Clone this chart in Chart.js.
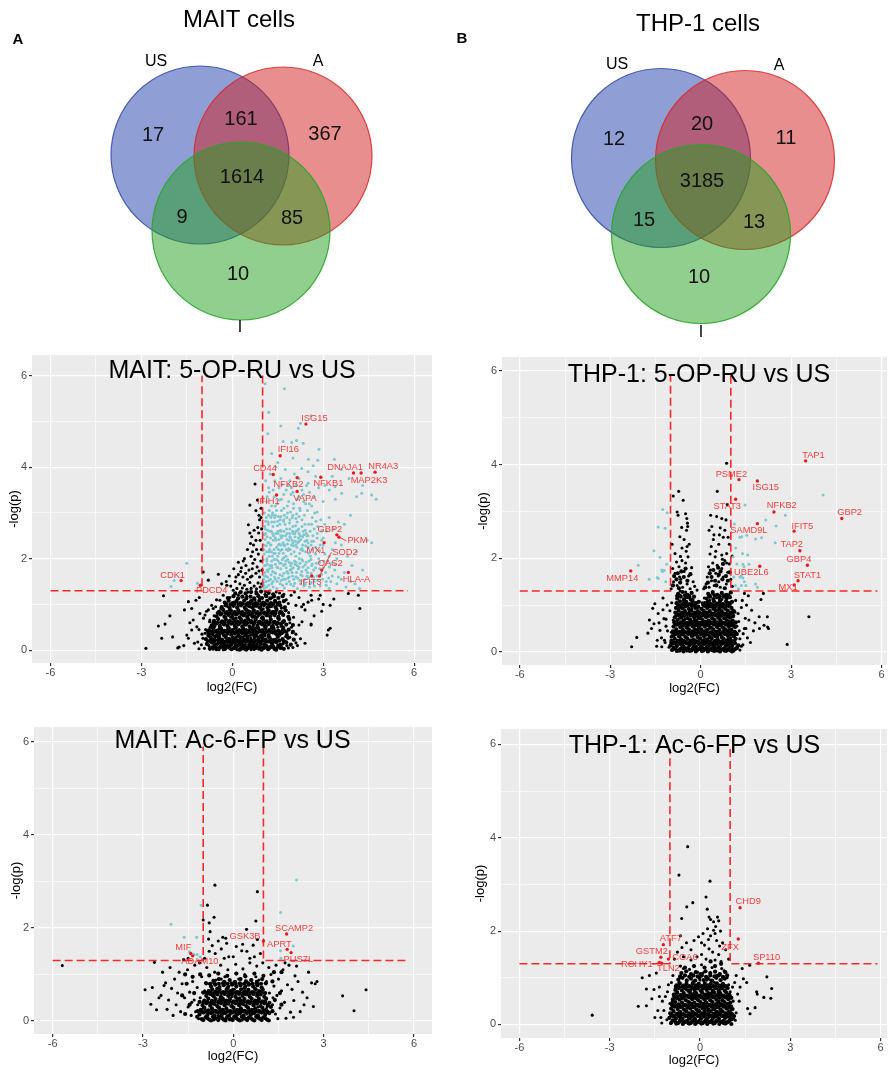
<!DOCTYPE html>
<html>
<head>
<meta charset="utf-8">
<script src="https://cdn.jsdelivr.net/npm/chart.js@4.4.1/dist/chart.umd.min.js"></script>
<style>
  body { margin: 0; background: #fff; width: 888px; height: 1069px; position: relative; overflow: hidden; }
  canvas { position: absolute; }
</style>
</head>
<body>
<canvas id="vennA" width="444" height="340" style="left:0;top:0"></canvas>
<canvas id="vennB" width="444" height="340" style="left:444px;top:0"></canvas>
<canvas id="maitOp" width="444" height="352" style="left:0;top:345px"></canvas>
<canvas id="thpOp" width="444" height="352" style="left:444px;top:345px"></canvas>
<canvas id="maitAc" width="444" height="352" style="left:0;top:717px"></canvas>
<canvas id="thpAc" width="444" height="352" style="left:444px;top:717px"></canvas>
<script>
// ---- Venn data ----
const vennSetNames = ['US', 'A', 'I'];
// regions: US only, US&A, A only, all three, US&I, A&I, I only
const maitVennCounts = [17, 161, 367, 1614, 9, 85, 10];
const thpVennCounts = [12, 20, 11, 3185, 15, 13, 10];

// ---- volcano cut-offs ----
const fcCut = [-1, 1];
const pCut = 1.3;
const xTicks = [-6, -3, 0, 3, 6];
const yTicks = [0, 2, 4, 6];

// ---- MAIT: 5-OP-RU vs US ----
const maitOpBlack = `-0.92,0.04 -0.85,0.15 -0.8,0.31 -0.76,0.08 -0.71,0.22 -0.66,0.41 -0.63,0.02 -0.6,0.13 -0.57,0.28 -0.53,0.06 -0.5,0.36 -0.47,0.18 -0.44,0.01 -0.41,0.25 -0.38,0.11 -0.35,0.45 -0.32,0.07 -0.29,0.33 -0.26,0.19 -0.23,0.02 -0.2,0.27 -0.17,0.12 -0.14,0.4 -0.11,0.05 -0.08,0.22 -0.05,0.15 -0.02,0.33 0.01,0.03 0.04,0.19 0.07,0.47 0.1,0.1 0.13,0.28 0.16,0.01 0.19,0.37 0.22,0.14 0.25,0.23 0.28,0.06 0.31,0.42 0.34,0.17 0.37,0.3 0.4,0.02 0.43,0.12 0.46,0.35 0.49,0.21 0.52,0.08 0.55,0.44 0.58,0.16 0.61,0.27 0.64,0.04 0.67,0.38 0.7,0.11 0.73,0.24 0.76,0.48 0.79,0.06 0.82,0.31 0.85,0.18 0.88,0.02 0.91,0.41 0.94,0.13 0.97,0.26 1.0,0.07 1.03,0.35 1.06,0.2 1.1,0.45 1.14,0.1 1.18,0.29 1.22,0.03 1.27,0.17 1.32,0.38 1.37,0.08 1.43,0.24 1.5,0.12 1.57,0.33 1.64,0.05 1.72,0.2 1.8,0.1 1.9,0.28 2.0,0.06 2.1,0.16 -0.97,0.26 -1.02,0.12 -1.1,0.03 -0.88,0.45 -0.73,0.5 -0.58,0.52 -0.43,0.48 -0.27,0.55 -0.12,0.5 0.03,0.6 0.18,0.55 0.32,0.62 0.47,0.58 0.6,0.65 0.74,0.6 0.9,0.63 1.05,0.58 1.2,0.6 1.35,0.55 1.5,0.5 1.65,0.45 1.8,0.4 1.95,0.5 2.1,0.35 2.25,0.25 2.4,0.15 -0.3,0.01 0.15,0.09 0.62,0.01 0.95,0.02 -0.62,0.32 0.26,0.39 0.71,0.45 1.12,0.52 0.45,0.05 0.85,0.5
-0.78,0.12 -0.69,0.35 -0.61,0.06 -0.54,0.42 -0.48,0.14 -0.42,0.31 -0.36,0.22 -0.31,0.38 -0.24,0.09 -0.18,0.44 -0.13,0.25 -0.07,0.03 -0.03,0.42 0.02,0.26 0.08,0.35 0.11,0.03 0.17,0.21 0.23,0.45 0.27,0.12 0.33,0.07 0.38,0.4 0.42,0.23 0.48,0.05 0.53,0.31 0.57,0.1 0.63,0.41 0.68,0.19 0.72,0.02 0.77,0.36 0.81,0.14 0.87,0.28 0.92,0.06 0.98,0.39 1.04,0.13 1.08,0.32 1.16,0.06 1.21,0.42 1.26,0.25 1.34,0.11 1.41,0.36 1.47,0.05 1.53,0.21 1.61,0.4 1.68,0.14 1.76,0.3 1.85,0.05 1.98,0.38 2.15,0.1 -0.9,0.37 -0.82,0.2 -0.66,0.25 -0.5,0.22 -0.33,0.15 -0.16,0.35 0.0,0.18 0.14,0.43 0.3,0.28 0.46,0.45 0.6,0.33 0.75,0.08 0.9,0.2 1.0,0.45 1.13,0.18 1.28,0.48 1.44,0.17 1.58,0.04 1.7,0.45 -0.35,0.62 -0.05,0.72 0.25,0.82 0.55,0.78 0.82,0.72 1.15,0.8 1.4,0.75 1.65,0.82 1.9,0.6 2.2,0.55 -0.6,0.58 0.42,0.9 0.7,0.85 1.25,0.95 1.55,1.0 1.85,1.02 2.35,1.0 2.6,1.2
-0.95,0.7 -0.85,0.85 -0.75,0.62 -0.68,0.98 -0.6,0.75 -0.52,1.1 -0.45,0.68 -0.38,0.9 -0.3,1.2 -0.22,0.72 -0.15,0.95 -0.08,1.15 0.0,0.8 0.06,1.05 0.12,0.7 0.18,0.92 0.24,1.25 0.3,0.78 0.36,1.02 0.42,0.66 0.48,1.18 0.54,0.86 0.6,1.08 0.66,0.72 0.72,0.96 0.78,1.28 0.84,0.8 0.9,1.12 0.96,0.7 1.02,0.9 1.08,1.22 1.14,0.75 1.2,1.0 1.26,0.68 1.32,1.15 1.38,0.85 1.44,1.05 1.5,0.7 1.56,1.25 1.62,0.92 1.7,0.65 1.78,1.1 1.86,0.82 1.94,1.2 2.02,0.72 2.1,0.98 2.2,1.15 2.3,0.62 2.4,0.88 2.5,1.05 2.6,0.55 2.7,0.75 2.85,1.12 2.95,0.85 -0.25,0.58 0.09,0.62 0.39,0.55 0.69,0.52 0.99,0.55 1.29,0.52 1.59,0.58 0.2,1.2 0.52,1.27 0.75,1.1 1.1,1.28 1.45,1.27 1.7,1.22 2.05,1.27 -0.55,0.95 -0.1,0.88 0.27,0.98 0.57,0.95 0.88,0.93 1.17,0.88 1.47,0.9 1.75,0.95
2.9,1.2 3.23,0.98 3.17,0.44 3.23,0.48 3.13,0.33 4.21,0.91 3.83,1.24 4.16,1.2 2.62,1.09 2.6,0.57 2.29,0.95 3.0,1.0 3.35,1.12
0.75,3.63 0.58,3.17 0.83,3.28 0.78,3.05 0.53,2.74 0.58,2.56 0.64,2.48 0.84,2.68 0.87,2.56 0.9,2.85 0.95,2.9 0.7,2.3 0.8,2.2 0.92,2.4 0.5,2.2 0.62,2.05 0.4,2.0 0.74,1.98 0.86,2.1 0.96,2.2 0.3,1.8 0.45,1.85 0.55,1.75 0.68,1.9 0.82,1.82 0.94,1.95 0.2,1.65 0.35,1.6 0.5,1.55 0.65,1.62 0.78,1.68 0.9,1.6 0.98,1.75 0.1,1.5 0.25,1.45 0.4,1.42 0.58,1.48 0.72,1.4 0.85,1.47 0.97,1.45 -0.05,1.4 0.15,1.35 0.33,1.36 0.48,1.33 0.62,1.35 0.8,1.34 0.92,1.38 0.12,1.6 0.28,1.72 0.44,1.68 0.6,1.6 0.88,1.73 0.67,2.15 0.78,2.4 0.6,2.33 0.88,2.95 0.97,2.65 0.72,2.62 0.66,1.78 0.36,1.95 0.95,3.1 -0.2,1.5 -0.35,1.45 -0.46,1.66 -0.1,1.62 0.05,1.78 0.2,1.92
-2.27,1.19 -2.85,0.04 -2.44,0.53 -2.22,0.57 -2.33,0.26 -2.06,0.75 -1.97,0.29 -1.75,0.07 -1.58,0.88 -1.5,0.33 -1.45,1.06 -1.34,0.91 -1.29,0.66 -1.2,1.09 -1.09,1.15 -0.96,1.71 -0.79,1.53 -1.07,0.8 -1.17,0.51 -1.34,0.44 -1.45,0.26 -1.14,0.18 -0.79,0.88 -0.9,0.77 -0.74,0.66 -0.63,0.91 -0.41,1.09 -0.18,1.42 0.03,1.31 -1.8,0.05 -1.6,0.1 -1.25,0.15 -1.0,0.35 -1.4,0.6 -1.1,0.45`;
const maitOpBlackCore = `-0.74,0.03 -0.58,0.09 -0.46,0.04 -0.33,0.1 -0.21,0.06 -0.09,0.09 0.06,0.05 0.19,0.1 0.29,0.03 0.41,0.08 0.51,0.04 0.66,0.1 0.78,0.05 0.9,0.09 1.02,0.04 1.11,0.09 1.24,0.07 1.39,0.03 1.52,0.08 1.7,0.03
-0.83,0.13 -0.68,0.17 -0.52,0.12 -0.39,0.16 -0.27,0.13 -0.15,0.18 -0.03,0.12 0.09,0.15 0.21,0.19 0.32,0.12 0.44,0.18 0.56,0.13 0.69,0.16 0.8,0.11 0.93,0.17 1.06,0.13 1.19,0.19 1.31,0.14 1.46,0.18 1.6,0.12 1.78,0.17 1.93,0.12
-0.87,0.24 -0.72,0.28 -0.59,0.22 -0.45,0.27 -0.34,0.23 -0.22,0.29 -0.1,0.24 0.03,0.27 0.14,0.22 0.26,0.29 0.38,0.23 0.5,0.27 0.62,0.22 0.74,0.29 0.86,0.24 0.99,0.28 1.1,0.23 1.23,0.27 1.36,0.22 1.5,0.29 1.66,0.24 1.84,0.27 2.03,0.23
-0.79,0.34 -0.64,0.38 -0.51,0.32 -0.4,0.37 -0.28,0.33 -0.15,0.39 -0.04,0.34 0.09,0.38 0.2,0.32 0.33,0.37 0.44,0.33 0.57,0.39 0.7,0.34 0.82,0.38 0.95,0.32 1.07,0.37 1.2,0.33 1.33,0.39 1.48,0.34 1.63,0.37 1.8,0.33 2.0,0.4
-0.76,0.44 -0.63,0.48 -0.49,0.43 -0.37,0.47 -0.25,0.42 -0.12,0.48 0.0,0.44 0.12,0.49 0.24,0.43 0.36,0.47 0.48,0.42 0.61,0.48 0.73,0.43 0.86,0.47 0.97,0.43 1.09,0.49 1.22,0.44 1.36,0.47 1.52,0.42 1.68,0.49 1.86,0.45
-0.68,0.54 -0.54,0.58 -0.41,0.53 -0.29,0.57 -0.16,0.53 -0.04,0.58 0.08,0.53 0.21,0.57 0.33,0.52 0.45,0.56 0.57,0.52 0.7,0.57 0.83,0.53 0.95,0.58 1.08,0.53 1.2,0.57 1.33,0.52 1.47,0.57 1.62,0.53 1.78,0.56 2.0,0.55
-0.6,0.64 -0.47,0.68 -0.33,0.63 -0.21,0.67 -0.08,0.64 0.04,0.68 0.16,0.63 0.29,0.67 0.41,0.62 0.52,0.68 0.64,0.63 0.77,0.67 0.9,0.62 1.02,0.67 1.14,0.63 1.27,0.67 1.4,0.62 1.54,0.68 1.7,0.63 1.88,0.68
-0.52,0.74 -0.39,0.78 -0.26,0.73 -0.13,0.77 0.0,0.73 0.12,0.78 0.24,0.72 0.37,0.76 0.49,0.73 0.62,0.77 0.74,0.73 0.87,0.77 1.0,0.72 1.12,0.77 1.25,0.74 1.38,0.78 1.52,0.73 1.68,0.77 1.85,0.73
-0.44,0.84 -0.3,0.88 -0.18,0.83 -0.05,0.87 0.08,0.83 0.2,0.87 0.33,0.83 0.46,0.88 0.58,0.83 0.71,0.87 0.83,0.83 0.96,0.88 1.08,0.82 1.2,0.87 1.33,0.83 1.46,0.88 1.6,0.84 1.76,0.87
-0.35,0.94 -0.22,0.98 -0.09,0.93 0.04,0.97 0.16,0.93 0.29,0.98 0.41,0.93 0.54,0.97 0.66,0.93 0.79,0.97 0.92,0.93 1.04,0.98 1.16,0.93 1.3,0.97 1.43,0.94 1.58,0.98 1.72,0.93
-0.25,1.04 -0.12,1.08 0.01,1.03 0.14,1.07 0.27,1.03 0.39,1.08 0.52,1.03 0.64,1.07 0.77,1.03 0.89,1.08 1.02,1.04 1.15,1.08 1.28,1.03 1.41,1.08 1.55,1.04 1.7,1.07
-0.15,1.14 0.04,1.18 0.19,1.13 0.33,1.17 0.46,1.13 0.6,1.17 0.72,1.13 0.86,1.18 0.98,1.14 1.12,1.18 1.25,1.13 1.38,1.18 1.52,1.14 1.66,1.18 0.1,1.24 0.28,1.27 0.44,1.24 0.62,1.27 0.8,1.24 0.95,1.28 1.2,1.25 1.35,1.22
-0.66,0.06 -0.52,0.02 -0.4,0.06 -0.27,0.02 -0.15,0.07 -0.03,0.02 0.12,0.07 0.24,0.01 0.35,0.06 0.46,0.01 0.58,0.06 0.72,0.03 0.84,0.07 0.96,0.01 1.07,0.06 1.18,0.02 1.3,0.07 1.45,0.01 1.6,0.06
-0.75,0.2 -0.6,0.19 -0.45,0.21 -0.32,0.19 -0.2,0.2 -0.08,0.19 0.03,0.21 0.15,0.19 0.27,0.2 0.39,0.19 0.5,0.21 0.62,0.19 0.75,0.2 0.87,0.19 1.0,0.21 1.12,0.19 1.25,0.2 1.39,0.19 1.55,0.21 1.7,0.19
-0.8,0.41 -0.67,0.4 -0.55,0.41 -0.43,0.39 -0.31,0.41 -0.19,0.4 -0.07,0.41 0.05,0.39 0.17,0.41 0.29,0.4 0.41,0.41 0.53,0.39 0.66,0.41 0.78,0.4 0.91,0.41 1.03,0.39 1.15,0.41 1.28,0.4 1.42,0.41 1.57,0.39 1.73,0.41
-0.62,0.61 -0.5,0.6 -0.37,0.61 -0.25,0.6 -0.12,0.61 0.0,0.6 0.12,0.61 0.25,0.6 0.37,0.61 0.49,0.6 0.61,0.61 0.73,0.6 0.86,0.61 0.98,0.6 1.11,0.61 1.24,0.6 1.37,0.61 1.5,0.6 1.66,0.61
-0.48,0.81 -0.35,0.8 -0.22,0.81 -0.09,0.8 0.04,0.81 0.16,0.8 0.29,0.81 0.42,0.8 0.54,0.81 0.67,0.8 0.79,0.81 0.92,0.8 1.04,0.81 1.17,0.8 1.29,0.81 1.42,0.8 1.56,0.81
-0.2,1.01 -0.06,1.0 0.08,1.01 0.21,1.0 0.33,1.01 0.46,1.0 0.58,1.01 0.7,1.0 0.83,1.01 0.95,1.0 1.08,1.01 1.22,1.0 1.35,1.01 1.5,1.0`;
const maitOpSig = `1.05,1.35 1.12,1.5 1.2,1.42 1.28,1.65 1.35,1.38 1.42,1.55 1.5,1.8 1.58,1.45 1.65,1.62 1.72,1.36 1.8,1.72 1.88,1.5 1.95,1.9 2.02,1.4 2.1,1.6 2.18,1.78 2.25,1.45 2.32,1.95 2.4,1.55 2.48,1.7 2.55,1.38 2.62,1.85 2.7,1.5 2.8,1.62 2.9,1.4 3.0,1.8 3.1,1.5 3.2,1.35 3.3,1.62 3.45,1.45 3.6,1.55 3.75,1.38 3.9,1.5 4.05,1.45 4.2,1.35 1.08,1.7 1.15,1.88 1.22,2.05 1.3,1.95 1.38,2.2 1.46,1.98 1.54,2.12 1.62,2.3 1.7,2.02 1.78,2.2 1.86,2.4 1.94,2.1 2.02,2.28 2.1,2.05 2.18,2.45 2.26,2.2 2.34,2.6 2.42,2.15 2.5,2.35 2.58,2.05 2.66,2.5 2.75,2.25 2.85,2.0 2.95,2.6 3.05,2.1 3.15,1.95 3.3,2.2 3.45,2.0 3.6,2.3 3.8,2.05 3.95,1.85 4.1,2.15 4.3,1.75 4.45,2.4 4.6,2.35 1.04,2.3 1.1,2.55 1.18,2.8 1.26,2.45 1.34,2.7 1.42,2.95 1.5,2.6 1.58,2.85 1.66,2.5 1.74,2.75 1.82,3.0 1.9,2.65 1.98,2.9 2.06,2.55 2.14,2.8 2.22,3.1 2.3,2.7 2.38,2.95 2.46,2.5 2.54,3.2 2.62,2.75 2.72,3.0 2.82,2.7 2.92,2.85 3.05,2.75 3.2,2.9 3.35,2.65 3.5,2.8 3.7,2.75 3.9,2.95
1.06,3.0 1.14,3.25 1.22,3.45 1.3,3.15 1.38,3.35 1.46,3.05 1.54,3.55 1.62,3.3 1.7,3.1 1.78,3.5 1.86,3.25 1.94,3.4 2.02,3.2 2.1,3.6 2.2,3.35 2.3,3.5 2.42,3.2 2.55,3.45 2.7,3.35 2.85,3.55 3.0,3.25 3.2,3.5 3.39,3.57 3.61,3.43 3.4,3.3 4.1,3.35 4.27,3.43 4.6,3.39 4.75,3.3 1.1,3.7 1.25,3.85 1.44,4.0 1.6,3.75 1.75,3.95 1.9,3.7 2.05,3.85 2.29,3.97 2.5,3.9 2.67,4.03 2.82,4.15 2.51,4.17 3.37,4.17 2.86,4.39 2.34,4.52 2.12,4.58 1.96,4.54 1.68,4.56 1.17,4.73 2.18,4.85 2.25,4.96 1.72,5.71 1.08,5.82 1.3,4.3 1.5,4.1 2.0,4.2 3.6,3.95 3.85,3.75 4.3,3.6 1.2,5.2 1.6,4.9 2.6,5.12
1.03,1.55 1.09,1.85 1.16,1.6 1.24,1.32 1.31,1.8 1.39,1.7 1.47,1.35 1.52,2.3 1.61,1.9 1.69,1.55 1.76,1.95 1.84,1.58 1.91,1.75 1.99,1.62 2.07,1.88 2.15,1.35 2.21,2.0 2.29,1.72 2.36,1.4 2.44,1.92 2.52,1.6 2.6,1.48 2.68,1.75 2.77,1.9 2.88,1.78 2.98,1.55 3.08,1.7 3.18,1.58 3.28,1.9 3.38,1.75 1.02,1.98 1.13,2.15 1.21,2.35 1.29,2.15 1.36,2.5 1.44,2.4 1.52,2.2 1.6,2.6 1.68,2.35 1.76,2.5 1.84,2.18 1.92,2.45 2.0,2.7 2.08,2.38 2.16,2.62 2.24,2.5 2.32,2.3 2.4,2.75 2.5,2.5 2.6,2.3 2.7,2.65 2.8,2.45 2.9,2.3 3.0,2.45 1.07,2.7 1.17,2.62 1.27,2.9 1.33,3.0 1.49,3.2 1.57,2.75
-1.5,1.9 -1.92,1.52 -2.02,1.39 -1.15,1.46 -1.08,1.42
1.04,1.42 1.13,1.38 1.21,1.52 1.3,1.45 1.39,1.6 1.48,1.5 1.57,1.65 1.66,1.42 1.75,1.55 1.84,1.68 1.93,1.44 2.03,1.55 2.12,1.7 2.22,1.52 2.31,1.62 2.41,1.44 2.5,1.58 2.6,1.68 2.71,1.4 2.82,1.52 2.95,1.66 3.1,1.42 3.25,1.5 3.5,1.6 3.7,1.7 1.06,1.62 1.15,1.75 1.24,1.85 1.33,1.72 1.42,1.88 1.51,1.95 1.6,1.78 1.69,1.85 1.78,1.8 1.87,1.92 1.96,1.78 2.05,1.95 2.14,1.85 2.23,1.9 2.33,1.82 2.43,1.75 2.53,1.95 2.64,1.88 2.75,1.8 2.88,1.92 3.02,1.95 3.2,1.82 3.4,1.88 1.05,2.1 1.14,2.0 1.23,2.2 1.32,2.05 1.41,2.12 1.5,2.05 1.59,2.18 1.68,2.12 1.77,2.05 1.86,2.22 1.95,2.3 2.04,2.15 2.13,2.25 2.22,2.12 2.32,2.18 2.42,2.28 2.52,2.12 2.63,2.2 2.75,2.1 2.88,2.18 3.0,2.3 3.2,2.05 3.4,2.35
1.08,2.42 1.17,2.35 1.26,2.3 1.35,2.4 1.44,2.55 1.53,2.42 1.62,2.45 1.71,2.3 1.8,2.42 1.89,2.55 1.98,2.4 2.07,2.48 2.16,2.35 2.26,2.42 2.36,2.52 2.46,2.4 2.57,2.6 2.68,2.38 2.8,2.55 2.95,2.4 3.1,2.6 1.09,2.65 1.19,2.75 1.29,2.6 1.39,2.8 1.49,2.72 1.59,2.62 1.69,2.82 1.79,2.65 1.89,2.78 1.99,2.6 2.09,2.72 2.19,2.65 2.3,2.85 2.41,2.62 2.52,2.75 2.64,2.9 2.76,2.82 1.12,2.9 1.22,3.05 1.32,2.95 1.42,3.15 1.52,2.92 1.62,3.05 1.72,2.95 1.82,3.15 1.92,3.02 2.02,3.1 2.12,2.98 2.24,3.05 2.36,3.25 2.48,3.05 2.62,3.15 2.8,3.02 1.15,3.35 1.35,3.5 1.55,3.28 1.7,3.4 1.85,3.6 2.0,3.45 2.15,3.3 2.35,3.4 2.5,3.65 1.2,3.55 1.4,3.7 1.65,3.62 1.95,3.55 2.2,3.75 2.45,3.6 2.75,3.8 3.05,3.6 3.3,3.8
1.03,1.48 1.1,1.62 1.18,1.72 1.26,1.55 1.34,1.5 1.43,1.68 1.52,1.58 1.61,1.52 1.7,1.68 1.79,1.45 1.88,1.6 1.97,1.7 2.06,1.46 2.16,1.58 2.26,1.65 2.36,1.52 2.46,1.62 2.57,1.45 2.68,1.6 1.06,1.85 1.14,1.95 1.22,1.78 1.3,1.85 1.38,1.98 1.47,1.82 1.56,1.9 1.65,1.98 1.74,1.88 1.83,1.98 1.92,1.85 2.01,1.8 2.1,1.92 2.2,1.82 2.3,1.98 2.4,1.86 2.5,1.8 2.6,1.98 1.04,2.2 1.12,2.28 1.2,2.15 1.28,2.3 1.37,2.12 1.46,2.25 1.55,2.32 1.64,2.2 1.73,2.28 1.82,2.32 1.91,2.2 2.0,2.35 2.1,2.3 2.2,2.38 2.3,2.22 2.4,2.38 2.5,2.25 2.62,2.38 1.06,2.52 1.15,2.48 1.24,2.6 1.33,2.55 1.42,2.45 1.51,2.55 1.6,2.5 1.7,2.6 1.8,2.55 1.9,2.48 2.0,2.55 2.1,2.6 2.2,2.55 2.32,2.48 2.44,2.55 1.1,2.82 1.2,2.95 1.3,2.8 1.4,2.9 1.5,2.82 1.6,2.92 1.7,2.85 1.8,2.9 1.9,2.85 2.0,2.95 2.1,2.88 2.2,2.92`;
const maitOpGenes = ['ISG15', 'IFI16', 'CD44', 'NFKB2', 'NFKB1', 'DNAJA1', 'NR4A3', 'MAP2K3', 'VAPA', 'IFIH1', 'GBP2', 'PKM', 'MX1', 'SOD2', 'OAS2', 'HLA-A', 'IFIT3', 'CDK1', 'PDCD4'];
const maitOpFC = [2.43, 1.58, 1.35, 2.14, 2.92, 4.0, 4.71, 4.25, 2.14, 1.46, 3.45, 3.52, 3.03, 2.88, 2.95, 3.83, 2.62, -1.69, -1.05];
const maitOpLogP = [4.94, 4.25, 3.84, 3.77, 3.78, 3.87, 3.89, 3.87, 3.47, 3.39, 2.52, 2.47, 2.35, 1.62, 1.75, 1.7, 1.62, 1.52, 1.42];

// ---- THP-1: 5-OP-RU vs US ----
const thpOpBlack = `-1.05,0.1 -0.98,0.32 -0.93,0.05 -0.9,0.55 -0.86,0.2 -0.82,0.78 -0.79,0.12 -0.75,0.4 -0.72,0.95 -0.69,0.02 -0.66,0.28 -0.63,0.62 -0.6,0.15 -0.57,1.1 -0.54,0.45 -0.51,0.08 -0.48,0.8 -0.45,0.3 -0.42,1.22 -0.39,0.18 -0.36,0.58 -0.33,0.04 -0.3,0.92 -0.27,0.35 -0.24,0.12 -0.21,0.7 -0.18,0.25 -0.15,1.05 -0.12,0.06 -0.09,0.48 -0.06,0.15 -0.03,0.85 0.0,0.3 0.03,0.02 0.06,0.62 0.09,0.2 0.12,1.15 0.15,0.42 0.18,0.08 0.21,0.75 0.24,0.28 0.27,0.98 0.3,0.14 0.33,0.52 0.36,0.03 0.39,1.25 0.42,0.35 0.45,0.68 0.48,0.1 0.51,0.9 0.54,0.22 0.57,0.55 0.6,0.05 0.63,1.08 0.66,0.38 0.69,0.16 0.72,0.8 0.75,0.45 0.78,0.02 0.81,0.62 0.84,0.25 0.87,1.0 0.9,0.12 0.93,0.48 0.96,0.72 0.99,0.3 1.03,0.08 1.07,0.55 1.1,0.22 1.14,0.85 1.18,0.4 1.22,0.1 1.26,0.65 1.3,0.28 1.35,0.95 1.4,0.15 1.45,0.5
-1.1,0.45 -1.15,0.7 -1.2,0.25 -1.25,0.9 -1.02,0.88 -0.96,1.05 -0.88,0.35 -0.8,1.2 -0.74,0.6 -0.68,1.3 -0.62,0.85 -0.55,0.25 -0.5,1.28 -0.44,0.55 -0.38,0.88 -0.32,0.4 -0.26,1.12 -0.2,0.5 -0.14,0.2 -0.08,0.72 -0.02,0.1 0.04,0.45 0.1,0.88 0.16,0.6 0.22,0.02 0.28,0.5 0.34,0.8 0.4,0.62 0.46,0.95 0.52,0.4 0.58,1.2 0.64,0.7 0.7,0.3 0.76,0.95 0.82,0.08 0.88,0.75 0.94,1.18 1.0,0.62 1.06,0.9 1.12,0.35 1.16,1.1 1.24,0.82 -0.99,0.2 -0.91,0.68 -0.84,0.45 -0.77,0.25 -0.7,0.72 -0.64,0.05 -0.58,0.38 -0.52,0.7 -0.46,0.02 -0.4,0.42 -0.34,0.7 -0.28,0.08 -0.22,0.38 -0.16,0.62 -0.1,0.3 -0.04,0.55 0.02,0.75 0.08,0.08 0.14,0.28 0.2,0.48 0.26,0.18 0.32,0.65 0.38,0.3 0.44,0.1 0.5,0.6 0.56,0.32 0.62,0.78 0.68,0.55 0.74,0.18 0.8,0.4 0.86,0.58 0.92,0.28 0.98,0.02 1.04,0.42 1.08,0.75 1.2,0.55 1.28,0.45 -0.97,0.42 -0.85,0.05 -0.6,0.5 -0.35,0.22 -0.1,0.95 0.13,0.35 0.37,0.15 0.6,0.9 0.85,0.15 1.1,0.02 -0.65,0.95 0.05,1.05 0.3,1.1 0.7,1.12 -0.3,0.62 0.55,0.02
-0.98,1.35 -0.9,1.5 -0.85,1.68 -0.78,1.42 -0.72,1.82 -0.66,1.55 -0.6,1.38 -0.55,1.72 -0.5,1.9 -0.45,1.45 -0.4,1.62 -0.35,1.35 -0.3,1.8 -0.25,1.5 -0.2,1.4 -0.12,1.32 0.1,1.35 0.18,1.45 0.22,1.6 0.28,1.38 0.32,1.75 0.36,1.52 0.4,1.9 0.45,1.42 0.5,1.68 0.55,1.85 0.6,1.5 0.65,1.38 0.7,1.78 0.75,1.6 0.8,1.95 0.85,1.45 0.9,1.7 0.95,1.88 1.0,1.55 1.05,1.4 0.72,1.98 0.58,1.62 -0.62,1.95 -0.8,1.92 -0.93,1.78 -0.7,1.6 0.26,1.82 0.86,1.9
0.86,4.03 -0.73,3.43 -0.91,3.33 -0.58,3.24 0.55,3.43 -0.78,2.99 -0.46,2.85 -0.43,2.68 -0.63,2.66 -0.69,2.46 -0.45,2.25 -0.42,2.03 -0.67,2.04 0.33,2.92 0.53,2.89 0.7,2.85 0.84,2.82 0.37,2.68 0.65,2.65 0.44,2.5 0.75,2.45 0.91,2.45 0.31,2.09 0.48,2.03 0.7,2.07 0.86,2.1 -0.75,2.92 -0.44,2.75 -0.47,2.6 -0.55,2.4 -0.48,2.15 -0.62,2.22 -0.95,2.3 -0.85,2.1 0.35,2.25 0.6,2.3 0.8,2.6 0.95,2.3 0.42,2.4 1.05,2.05 0.28,2.6 0.5,2.15 0.62,2.5 0.88,3.15 -0.5,2.95 -0.38,2.3
-2.29,0.11 -2.12,0.31 -1.63,0.5 -1.52,1.03 -1.7,0.68 -1.41,0.82 -1.35,0.46 -1.29,0.11 -1.46,0.12 -1.22,0.71 -1.11,1.0 -1.75,0.4 -1.59,0.93 -1.44,0.25 -1.3,0.3 -1.18,0.2 -1.38,0.62 -1.25,1.15 -1.55,0.6 -1.15,0.55 1.45,1.25 1.52,1.0 1.69,0.89 1.6,0.68 1.41,0.39 1.3,0.04 2.08,1.25 1.94,0.75 2.1,0.57 2.22,0.53 2.87,0.16 2.21,0.75 1.95,0.5 2.25,0.5 3.59,0.75 1.55,0.3 1.65,0.2 1.48,0.72 1.75,0.45 1.38,1.1 1.35,0.12 1.5,0.5 1.8,0.62 1.58,1.2 2.0,1.12`;
const thpOpBlackCore = `-0.95,0.04 -0.84,0.08 -0.73,0.03 -0.62,0.09 -0.52,0.05 -0.41,0.08 -0.31,0.03 -0.21,0.09 -0.11,0.04 -0.01,0.08 0.09,0.03 0.19,0.09 0.29,0.05 0.39,0.08 0.49,0.03 0.59,0.09 0.69,0.05 0.79,0.08 0.89,0.04 0.99,0.09 1.09,0.05 1.19,0.08
-1.0,0.14 -0.89,0.18 -0.79,0.13 -0.68,0.17 -0.57,0.12 -0.47,0.18 -0.37,0.14 -0.26,0.17 -0.16,0.12 -0.06,0.18 0.04,0.13 0.14,0.17 0.24,0.12 0.34,0.18 0.44,0.14 0.54,0.17 0.64,0.12 0.74,0.18 0.84,0.14 0.94,0.17 1.04,0.13 1.14,0.18 1.25,0.14
-0.97,0.24 -0.86,0.28 -0.75,0.23 -0.65,0.27 -0.55,0.22 -0.44,0.28 -0.34,0.24 -0.24,0.27 -0.14,0.22 -0.04,0.28 0.06,0.24 0.16,0.27 0.26,0.22 0.36,0.28 0.46,0.23 0.56,0.27 0.66,0.22 0.76,0.28 0.86,0.24 0.96,0.27 1.06,0.23 1.16,0.28
-0.94,0.34 -0.83,0.38 -0.72,0.33 -0.62,0.37 -0.51,0.32 -0.41,0.38 -0.3,0.34 -0.2,0.37 -0.1,0.32 0.0,0.38 0.1,0.34 0.2,0.37 0.3,0.32 0.4,0.38 0.5,0.33 0.6,0.37 0.7,0.32 0.8,0.38 0.9,0.34 1.0,0.37 1.1,0.33 1.2,0.38
-0.92,0.44 -0.81,0.48 -0.7,0.43 -0.6,0.47 -0.49,0.42 -0.39,0.48 -0.28,0.44 -0.18,0.47 -0.08,0.42 0.02,0.48 0.12,0.44 0.22,0.47 0.32,0.42 0.42,0.48 0.52,0.43 0.62,0.47 0.72,0.42 0.82,0.48 0.92,0.44 1.02,0.47 1.12,0.43
-0.9,0.54 -0.79,0.58 -0.68,0.53 -0.58,0.57 -0.47,0.52 -0.37,0.58 -0.26,0.54 -0.16,0.57 -0.06,0.52 0.04,0.58 0.14,0.54 0.24,0.57 0.34,0.52 0.44,0.58 0.54,0.53 0.64,0.57 0.74,0.52 0.84,0.58 0.94,0.54 1.04,0.57 1.14,0.53
-0.88,0.64 -0.77,0.68 -0.66,0.63 -0.56,0.67 -0.45,0.62 -0.35,0.68 -0.24,0.64 -0.14,0.67 -0.04,0.62 0.06,0.68 0.16,0.64 0.26,0.67 0.36,0.62 0.46,0.68 0.56,0.63 0.66,0.67 0.76,0.62 0.86,0.68 0.96,0.64 1.06,0.67 1.16,0.63
-0.86,0.74 -0.75,0.78 -0.64,0.73 -0.54,0.77 -0.43,0.72 -0.33,0.78 -0.22,0.74 -0.12,0.77 -0.02,0.72 0.08,0.78 0.18,0.74 0.28,0.77 0.38,0.72 0.48,0.78 0.58,0.73 0.68,0.77 0.78,0.72 0.88,0.78 0.98,0.74 1.08,0.77
-0.84,0.84 -0.73,0.88 -0.62,0.83 -0.52,0.87 -0.41,0.82 -0.31,0.88 -0.2,0.84 -0.1,0.87 0.0,0.82 0.1,0.88 0.2,0.84 0.3,0.87 0.4,0.82 0.5,0.88 0.6,0.83 0.7,0.87 0.8,0.82 0.9,0.88 1.0,0.84 1.1,0.87
-0.82,0.94 -0.71,0.98 -0.6,0.93 -0.5,0.97 -0.39,0.92 -0.29,0.98 -0.18,0.94 -0.08,0.97 0.02,0.92 0.12,0.98 0.22,0.94 0.32,0.97 0.42,0.92 0.52,0.98 0.62,0.93 0.72,0.97 0.82,0.92 0.92,0.98 1.02,0.94
-0.8,1.04 -0.69,1.08 -0.58,1.03 -0.48,1.07 -0.37,1.02 -0.27,1.08 -0.16,1.04 -0.06,1.07 0.14,1.04 0.24,1.07 0.34,1.02 0.44,1.08 0.54,1.03 0.64,1.07 0.74,1.02 0.84,1.08 0.94,1.04 1.04,1.07
-0.78,1.14 -0.66,1.18 -0.55,1.13 -0.44,1.17 -0.33,1.12 -0.22,1.18 0.2,1.14 0.31,1.18 0.42,1.13 0.53,1.17 0.64,1.12 0.75,1.18 0.86,1.14 0.97,1.17 -0.75,1.24 -0.6,1.28 -0.45,1.22 -0.3,1.26 0.25,1.24 0.4,1.28 0.55,1.22 0.7,1.26 0.85,1.22 1.0,1.27
-0.92,1.42 -0.8,1.55 -0.68,1.48 -0.56,1.6 -0.44,1.52 -0.34,1.66 -0.5,1.78 -0.64,1.72 -0.76,1.68 -0.88,1.62 0.24,1.48 0.36,1.6 0.48,1.52 0.6,1.65 0.72,1.55 0.84,1.62 0.96,1.7 0.42,1.75 0.58,1.8 0.74,1.88 0.3,1.68 0.66,1.72 0.9,1.52 -0.72,1.36 0.15,1.38 0.52,1.42 0.8,1.36
-0.9,0.09 -0.79,0.02 -0.68,0.06 -0.57,0.01 -0.46,0.07 -0.36,0.02 -0.26,0.06 -0.16,0.01 -0.06,0.06 0.04,0.02 0.14,0.06 0.24,0.01 0.34,0.06 0.44,0.02 0.54,0.07 0.64,0.01 0.74,0.06 0.84,0.02 0.94,0.06 1.04,0.01 1.14,0.06
-0.92,0.21 -0.81,0.19 -0.7,0.21 -0.6,0.2 -0.5,0.21 -0.39,0.19 -0.29,0.21 -0.19,0.2 -0.09,0.21 0.01,0.19 0.11,0.21 0.21,0.2 0.31,0.21 0.41,0.19 0.51,0.21 0.61,0.2 0.71,0.21 0.81,0.19 0.91,0.21 1.01,0.2 1.11,0.21
-0.9,0.41 -0.78,0.4 -0.67,0.41 -0.57,0.39 -0.46,0.41 -0.35,0.4 -0.25,0.41 -0.15,0.39 -0.05,0.41 0.05,0.4 0.15,0.41 0.25,0.39 0.35,0.41 0.45,0.4 0.55,0.41 0.65,0.39 0.75,0.41 0.85,0.4 0.95,0.41 1.05,0.39 1.15,0.41
-0.85,0.61 -0.74,0.6 -0.63,0.61 -0.52,0.6 -0.41,0.61 -0.31,0.6 -0.2,0.61 -0.1,0.6 0.0,0.61 0.1,0.6 0.2,0.61 0.3,0.6 0.4,0.61 0.5,0.6 0.6,0.61 0.7,0.6 0.8,0.61 0.9,0.6 1.0,0.61 1.1,0.6
-0.8,0.81 -0.69,0.8 -0.58,0.81 -0.47,0.8 -0.36,0.81 -0.26,0.8 -0.15,0.81 -0.05,0.8 0.05,0.81 0.15,0.8 0.25,0.81 0.35,0.8 0.45,0.81 0.55,0.8 0.65,0.81 0.75,0.8 0.85,0.81 0.95,0.8 1.05,0.81
-0.76,1.01 -0.64,1.0 -0.53,1.01 -0.42,1.0 -0.31,1.01 -0.2,1.0 0.08,1.01 0.19,1.0 0.3,1.01 0.41,1.0 0.52,1.01 0.63,1.0 0.74,1.01 0.85,1.0 0.96,1.01
-0.7,1.2 -0.52,1.21 -0.38,1.19 0.28,1.2 0.46,1.21 0.62,1.19 0.78,1.2 0.92,1.21`;
const thpOpSig = `-1.26,3.04 -1.11,2.97 -1.41,2.67 -1.18,2.64 -1.55,2.16 -1.35,2.02 -2.07,1.85 -1.13,1.87 -1.29,1.75 -1.21,1.74 -1.41,1.57 -1.71,1.55 -1.16,1.5 -1.44,1.59 -1.27,1.72 1.47,3.14 1.12,2.73 1.36,2.46 1.53,2.49 1.82,2.41 2.02,2.44 2.16,2.82 2.5,2.69 2.81,2.92 2.47,2.33 1.16,2.22 1.08,2.03 1.39,2.1 1.56,2.07 1.2,1.88 1.4,1.87 1.6,1.87 1.3,1.6 1.35,1.62 1.4,1.58 1.45,1.5 1.15,1.42 1.35,1.42 1.5,1.42 1.82,1.45 4.06,3.35 1.44,1.82 1.88,1.38 1.3,2.45 1.1,1.6 1.25,1.35`;
const thpOpGenes = ['TAP1', 'PSME2', 'ISG15', 'STAT3', 'NFKB2', 'GBP2', 'IFIT5', 'SAMD9L', 'TAP2', 'GBP4', 'STAT1', 'MX1', 'UBE2L6', 'MMP14'];
const thpOpFC = [3.48, 1.27, 1.88, 1.16, 2.43, 4.68, 3.1, 1.88, 3.29, 3.54, 3.23, 3.1, 1.96, -2.32];
const thpOpLogP = [4.08, 3.68, 3.65, 3.26, 2.99, 2.85, 2.58, 2.74, 2.16, 1.85, 1.52, 1.43, 1.83, 1.73];

// ---- MAIT: Ac-6-FP vs US ----
const maitAcBlack = `-1.5,0.3 -1.45,0.62 -1.4,0.12 -1.35,0.85 -1.3,0.45 -1.25,0.2 -1.2,0.72 -1.15,0.05 -1.1,0.5 -1.05,0.95 -1.0,0.28 -0.95,0.65 -0.9,0.1 -0.85,0.42 -0.8,0.8 -0.75,0.18 -0.7,0.55 -0.65,0.02 -0.6,0.35 -0.55,0.7 -0.5,0.12 -0.45,0.48 -0.4,0.9 -0.35,0.25 -0.3,0.6 -0.25,0.05 -0.2,0.38 -0.15,0.75 -0.1,0.15 -0.05,0.52 0.0,0.3 0.05,0.85 0.1,0.08 0.15,0.45 0.2,0.22 0.25,0.68 0.3,0.02 0.35,0.35 0.4,0.58 0.45,0.15 0.5,0.8 0.55,0.4 0.6,0.05 0.65,0.62 0.7,0.25 0.75,0.95 0.8,0.12 0.85,0.5 0.9,0.32 0.95,0.72 1.0,0.08 1.05,0.42 1.1,0.85 1.15,0.2 1.2,0.6 1.25,1.0 1.3,0.35 1.35,0.75 1.4,0.15 1.45,0.55 1.5,0.9 1.55,0.28 1.6,0.65 1.7,0.4 1.8,0.78
-1.62,0.5 -1.7,0.8 -1.75,0.2 -1.8,1.05 -1.85,0.6 -1.9,0.35 -1.95,0.9 -2.0,0.12 -2.05,0.7 -2.1,1.15 -2.15,0.45 -2.2,0.25 -2.25,0.82 -2.3,0.76 -2.35,1.05 -2.4,0.55 -2.47,0.5 -2.55,0.24 -2.62,1.26 -2.69,0.72 -2.74,0.36 -2.93,0.67 -5.68,1.19 -1.52,1.1 -1.28,1.2 -1.12,1.25 -0.88,1.15 -0.62,1.05 -0.42,1.2 -0.18,1.1 0.08,1.22 0.32,1.12 0.55,1.25 0.78,1.18 0.98,1.25 1.18,1.15 1.42,1.2 1.65,1.1 1.85,1.2
-0.98,0.02 -0.72,0.38 -0.48,0.28 -0.22,0.62 0.02,0.1 0.22,0.5 0.48,0.3 0.72,0.7 0.92,0.04 1.12,0.3 -0.82,0.6 -0.58,0.88 -0.32,0.45 -0.08,0.32 0.18,0.9 0.42,0.75 0.68,0.42 0.88,0.6 -1.18,0.35 -1.38,0.4 1.32,0.5 1.48,0.05 -0.68,0.18 -0.12,0.02 0.28,0.25 0.62,0.15 -0.38,0.05 0.12,0.62 0.52,0.55 0.82,0.3 -0.92,0.82 -0.28,0.95 0.38,1.0 1.02,0.6 -0.02,0.68 -0.52,0.3 0.58,0.88 0.15,0.14 -0.45,0.68 0.85,0.88
3.63,0.54 4.01,0.22 4.41,0.67 2.66,0.31 2.6,0.82 2.72,0.8 2.78,0.85 2.22,0.2 2.05,0.97 1.9,0.19 2.01,0.44 2.3,0.62 2.45,0.5 1.95,0.68 2.15,0.85 2.5,1.05 1.72,1.25 2.1,1.18 2.35,0.35 1.75,0.06 2.0,0.08
-0.61,2.92 -0.86,2.49 -1.0,2.17 -0.8,2.11 -0.64,2.23 -0.77,1.92 -0.82,1.76 -0.5,1.72 0.8,2.78 0.75,2.15 0.44,1.97 0.8,1.75 0.66,1.63 0.31,1.65 -0.35,1.8 -0.25,1.78 -0.6,1.45 -0.8,1.5 -0.95,1.35 -0.4,1.55 -0.15,1.38 0.1,1.6 0.28,1.51 0.45,1.5 0.7,1.38 0.9,1.45 -0.3,1.35 0.0,1.38 0.55,1.35 -0.7,1.62 -0.22,1.67 -1.5,1.35 -1.65,1.32`;
const maitAcBlackCore = `-1.05,0.04 -0.92,0.08 -0.8,0.03 -0.68,0.09 -0.56,0.05 -0.44,0.08 -0.32,0.03 -0.2,0.09 -0.08,0.04 0.04,0.08 0.16,0.03 0.28,0.09 0.4,0.05 0.52,0.08 0.64,0.03 0.76,0.09 0.88,0.05 1.0,0.08 1.12,0.03
-1.12,0.14 -0.99,0.18 -0.86,0.13 -0.74,0.17 -0.62,0.12 -0.5,0.18 -0.38,0.14 -0.26,0.17 -0.14,0.12 -0.02,0.18 0.1,0.14 0.22,0.17 0.34,0.12 0.46,0.18 0.58,0.14 0.7,0.17 0.82,0.12 0.94,0.18 1.06,0.14 1.2,0.17
-1.08,0.24 -0.96,0.28 -0.83,0.23 -0.71,0.27 -0.59,0.22 -0.47,0.28 -0.35,0.24 -0.23,0.27 -0.11,0.22 0.01,0.28 0.13,0.24 0.25,0.27 0.37,0.22 0.49,0.28 0.61,0.24 0.73,0.27 0.85,0.22 0.97,0.28 1.09,0.24
-1.02,0.34 -0.89,0.38 -0.77,0.33 -0.65,0.37 -0.53,0.32 -0.41,0.38 -0.29,0.34 -0.17,0.37 -0.05,0.32 0.07,0.38 0.19,0.34 0.31,0.37 0.43,0.32 0.55,0.38 0.67,0.34 0.79,0.37 0.91,0.32 1.03,0.38 1.15,0.34
-0.96,0.44 -0.83,0.48 -0.71,0.43 -0.59,0.47 -0.47,0.42 -0.35,0.48 -0.23,0.44 -0.11,0.47 0.01,0.42 0.13,0.48 0.25,0.44 0.37,0.47 0.49,0.42 0.61,0.48 0.73,0.44 0.85,0.47 0.97,0.42 1.09,0.48
-0.9,0.54 -0.77,0.58 -0.65,0.53 -0.53,0.57 -0.41,0.52 -0.29,0.58 -0.17,0.54 -0.05,0.57 0.07,0.52 0.19,0.58 0.31,0.54 0.43,0.57 0.55,0.52 0.67,0.58 0.79,0.54 0.91,0.57 1.03,0.52
-0.82,0.64 -0.7,0.68 -0.58,0.63 -0.46,0.67 -0.34,0.62 -0.22,0.68 -0.1,0.64 0.02,0.67 0.14,0.62 0.26,0.68 0.38,0.64 0.5,0.67 0.62,0.62 0.74,0.68 0.86,0.64 0.98,0.67
-0.74,0.74 -0.6,0.78 -0.46,0.73 -0.32,0.77 -0.18,0.72 -0.04,0.78 0.1,0.74 0.24,0.77 0.38,0.72 0.52,0.78 0.66,0.74 0.8,0.77 0.94,0.72
-0.66,0.86 -0.48,0.9 -0.3,0.84 -0.12,0.88 0.06,0.84 0.24,0.9 0.42,0.85 0.6,0.88 0.78,0.84 0.96,0.9 -1.3,0.6 -1.45,0.35 -1.6,0.15 1.25,0.3 1.38,0.45 1.55,0.6 -1.55,0.8 -1.7,0.55 1.3,0.85 1.6,0.35
-1.2,0.09 -1.0,0.02 -0.86,0.06 -0.74,0.01 -0.62,0.06 -0.5,0.02 -0.38,0.07 -0.26,0.01 -0.14,0.06 -0.02,0.02 0.1,0.06 0.22,0.01 0.34,0.07 0.46,0.02 0.58,0.06 0.7,0.01 0.82,0.07 0.94,0.02 1.06,0.06 1.18,0.01
-1.18,0.21 -1.05,0.2 -0.92,0.21 -0.8,0.19 -0.68,0.21 -0.56,0.2 -0.44,0.21 -0.32,0.19 -0.2,0.21 -0.08,0.2 0.04,0.21 0.16,0.19 0.28,0.21 0.4,0.2 0.52,0.21 0.64,0.19 0.76,0.21 0.88,0.2 1.0,0.21 1.14,0.19 1.3,0.21
-1.12,0.41 -0.99,0.4 -0.86,0.41 -0.74,0.39 -0.62,0.41 -0.5,0.4 -0.38,0.41 -0.26,0.39 -0.14,0.41 -0.02,0.4 0.1,0.41 0.22,0.39 0.34,0.41 0.46,0.4 0.58,0.41 0.7,0.39 0.82,0.41 0.94,0.4 1.06,0.41 1.2,0.39
-1.0,0.61 -0.88,0.6 -0.76,0.61 -0.64,0.6 -0.52,0.61 -0.4,0.6 -0.28,0.61 -0.16,0.6 -0.04,0.61 0.08,0.6 0.2,0.61 0.32,0.6 0.44,0.61 0.56,0.6 0.68,0.61 0.8,0.6 0.92,0.61 1.06,0.6
-0.9,0.81 -0.76,0.8 -0.62,0.81 -0.48,0.8 -0.34,0.81 -0.2,0.8 -0.06,0.81 0.08,0.8 0.22,0.81 0.36,0.8 0.5,0.81 0.64,0.8 0.78,0.81 0.92,0.8 1.08,0.81
-1.35,0.95 -1.1,1.0 -0.8,0.98 -0.5,1.02 -0.2,0.97 0.1,1.02 0.4,0.96 0.7,1.02 1.0,0.97 1.35,1.05 -1.6,1.0 1.6,1.05`;
const maitAcSig = `2.1,3.03 1.57,2.33 -2.07,2.08 -1.07,2.49 -1.63,1.8 -1.22,1.8 -1.46,1.49 -1.3,1.43 -1.2,1.43 -1.1,1.38 1.57,1.51 1.99,1.61 1.58,1.35`;
const maitAcGenes = ['SCAMP2', 'GSK3B', 'APRT', 'PUS7L', 'MIF', 'ADAM10'];
const maitAcFC = [1.77, 1.0, 1.79, 1.92, -1.41, -1.35];
const maitAcLogP = [1.87, 1.72, 1.54, 1.47, 1.45, 1.4];

// ---- THP-1: Ac-6-FP vs US ----
const thpAcBlack = `-1.2,0.3 -1.15,0.6 -1.1,0.1 -1.05,0.85 -1.0,0.45 -0.95,0.2 -0.9,1.05 -0.85,0.65 -0.8,0.05 -0.75,0.38 -0.7,0.9 -0.65,0.15 -0.6,0.55 -0.55,1.2 -0.5,0.3 -0.45,0.75 -0.4,0.02 -0.35,0.48 -0.3,1.0 -0.25,0.22 -0.2,0.68 -0.15,0.1 -0.1,0.42 -0.05,0.88 0.0,0.18 0.05,0.6 0.1,1.1 0.15,0.32 0.2,0.05 0.25,0.78 0.3,0.4 0.35,0.95 0.4,0.12 0.45,0.58 0.5,0.25 0.55,1.05 0.6,0.7 0.65,0.08 0.7,0.45 0.75,0.85 0.8,0.2 0.85,0.6 0.9,1.0 0.95,0.35 1.0,0.7 1.05,0.1 1.1,0.5 1.15,0.9 1.2,0.25 1.25,0.65
-1.25,0.5 -1.3,0.15 -1.35,0.8 -1.27,0.03 -0.92,0.5 -0.82,0.8 -0.72,0.25 -0.62,1.0 -0.52,0.62 -0.42,0.35 -0.32,0.12 -0.22,0.92 -0.12,0.55 -0.02,0.3 0.08,0.75 0.18,0.5 0.28,0.15 0.38,0.68 0.48,0.9 0.58,0.38 0.68,0.6 0.78,0.02 0.88,0.42 0.98,0.15 1.08,0.8 -1.08,0.7 -0.98,0.02 -0.88,0.3 -0.78,0.55 -0.68,0.1 -0.58,0.82 -0.48,0.05 -0.38,0.62 -0.28,0.45 -0.18,0.25 -0.08,1.12 0.02,0.48 0.12,0.22 0.22,0.95 0.32,0.65 0.42,0.32 0.52,0.08 0.62,0.5 0.72,1.2 0.82,0.72 0.92,0.55 1.02,0.3 1.12,0.12 -0.65,1.25 -0.35,1.18 0.05,1.28 0.4,1.22 0.8,1.15 -0.45,0.95 -0.15,0.78 0.15,0.88 0.45,0.72 0.7,0.95 -0.75,0.7 -0.25,0.55 0.25,0.3 0.55,0.45 0.95,0.85 -0.55,0.4 -0.05,0.05 0.35,0.05 0.65,0.28 -0.95,0.9 0.0,0.95 -0.3,0.75 0.2,0.62
-0.41,3.81 -0.7,3.2 0.33,3.07 0.2,2.73 -0.24,2.61 -0.44,2.52 0.24,2.47 -0.61,2.27 0.3,2.3 0.35,2.25 0.45,2.2 0.52,2.1 0.58,2.3 0.62,2.22 0.68,2.0 0.5,1.95 0.25,2.05 0.35,1.9 0.45,2.02 0.1,1.95 0.55,1.8 0.75,1.75 0.15,1.7 0.3,1.62 0.42,1.55 0.62,1.5 0.85,1.6 -0.2,1.8 -0.45,1.75 -0.6,1.65 -0.75,1.55 -0.3,1.6 -0.1,1.45 -0.55,1.45 -0.85,1.4 0.05,1.5 0.2,1.4 0.5,1.38 0.7,1.35 0.95,1.4 -0.3,1.38 -0.65,1.9 0.05,1.75 -0.05,1.88 0.65,1.68 0.28,1.82
2.22,1.02 2.35,0.56 2.12,0.58 1.9,0.65 1.58,0.34 1.66,0.23 1.17,0.09 1.33,0.8 1.44,0.98 2.38,0.77 1.88,0.7 1.83,0.36 1.65,1.27 1.4,1.2 1.55,0.9 1.3,0.5 -2.05,0.39 -1.78,0.4 -1.92,1.0 -1.68,1.05 -1.78,0.76 -1.53,0.75 -1.35,0.6 -1.4,0.3 -1.5,0.15 -3.58,0.2 -1.45,1.1 -1.6,0.55 1.2,1.05`;
const thpAcBlackCore = `-0.95,0.04 -0.84,0.08 -0.73,0.03 -0.62,0.09 -0.52,0.05 -0.41,0.08 -0.31,0.03 -0.21,0.09 -0.11,0.04 -0.01,0.08 0.09,0.03 0.19,0.09 0.29,0.05 0.39,0.08 0.49,0.03 0.59,0.09 0.69,0.05 0.79,0.08 0.89,0.04 0.99,0.09
-1.02,0.14 -0.91,0.18 -0.8,0.13 -0.69,0.17 -0.58,0.12 -0.48,0.18 -0.37,0.14 -0.27,0.17 -0.17,0.12 -0.07,0.18 0.03,0.13 0.13,0.17 0.23,0.12 0.33,0.18 0.43,0.14 0.53,0.17 0.63,0.12 0.73,0.18 0.83,0.14 0.93,0.17 1.03,0.13 1.13,0.18
-0.99,0.24 -0.88,0.28 -0.77,0.23 -0.66,0.27 -0.56,0.22 -0.45,0.28 -0.35,0.24 -0.25,0.27 -0.15,0.22 -0.05,0.28 0.05,0.24 0.15,0.27 0.25,0.22 0.35,0.28 0.45,0.23 0.55,0.27 0.65,0.22 0.75,0.28 0.85,0.24 0.95,0.27 1.05,0.23
-0.96,0.34 -0.85,0.38 -0.74,0.33 -0.63,0.37 -0.53,0.32 -0.42,0.38 -0.32,0.34 -0.22,0.37 -0.12,0.32 -0.02,0.38 0.08,0.34 0.18,0.37 0.28,0.32 0.38,0.38 0.48,0.33 0.58,0.37 0.68,0.32 0.78,0.38 0.88,0.34 0.98,0.37 1.08,0.33
-0.93,0.44 -0.82,0.48 -0.71,0.43 -0.6,0.47 -0.5,0.42 -0.39,0.48 -0.29,0.44 -0.19,0.47 -0.09,0.42 0.01,0.48 0.11,0.44 0.21,0.47 0.31,0.42 0.41,0.48 0.51,0.43 0.61,0.47 0.71,0.42 0.81,0.48 0.91,0.44 1.01,0.47
-0.9,0.54 -0.79,0.58 -0.68,0.53 -0.57,0.57 -0.47,0.52 -0.36,0.58 -0.26,0.54 -0.16,0.57 -0.06,0.52 0.04,0.58 0.14,0.54 0.24,0.57 0.34,0.52 0.44,0.58 0.54,0.53 0.64,0.57 0.74,0.52 0.84,0.58 0.94,0.54 1.04,0.57
-0.87,0.64 -0.76,0.68 -0.65,0.63 -0.54,0.67 -0.44,0.62 -0.33,0.68 -0.23,0.64 -0.13,0.67 -0.03,0.62 0.07,0.68 0.17,0.64 0.27,0.67 0.37,0.62 0.47,0.68 0.57,0.63 0.67,0.67 0.77,0.62 0.87,0.68 0.97,0.64
-0.82,0.74 -0.71,0.78 -0.6,0.73 -0.49,0.77 -0.39,0.72 -0.28,0.78 -0.18,0.74 -0.08,0.77 0.02,0.72 0.12,0.78 0.22,0.74 0.32,0.77 0.42,0.72 0.52,0.78 0.62,0.73 0.72,0.77 0.82,0.72 0.92,0.78
-0.78,0.84 -0.67,0.88 -0.56,0.83 -0.45,0.87 -0.35,0.82 -0.24,0.88 -0.14,0.84 -0.04,0.87 0.06,0.82 0.16,0.88 0.26,0.84 0.36,0.87 0.46,0.82 0.56,0.88 0.66,0.83 0.76,0.87 0.86,0.82
-0.72,0.96 -0.58,1.0 -0.44,0.94 -0.3,0.98 -0.16,0.94 -0.02,1.0 0.12,0.95 0.26,0.98 0.4,0.94 0.54,1.0 0.68,0.95 0.82,0.98 -0.62,1.1 -0.46,1.14 -0.3,1.08 -0.14,1.12 0.02,1.08 0.18,1.14 0.34,1.1 0.5,1.13 0.66,1.08 0.84,1.12
-0.9,0.09 -0.79,0.02 -0.68,0.06 -0.57,0.01 -0.46,0.07 -0.36,0.02 -0.26,0.06 -0.16,0.01 -0.06,0.06 0.04,0.02 0.14,0.06 0.24,0.01 0.34,0.06 0.44,0.02 0.54,0.07 0.64,0.01 0.74,0.06 0.84,0.02 0.94,0.06 1.04,0.01
-0.96,0.21 -0.85,0.19 -0.74,0.21 -0.63,0.2 -0.53,0.21 -0.42,0.19 -0.32,0.21 -0.22,0.2 -0.12,0.21 -0.02,0.19 0.08,0.21 0.18,0.2 0.28,0.21 0.38,0.19 0.48,0.21 0.58,0.2 0.68,0.21 0.78,0.19 0.88,0.21 0.98,0.2 1.08,0.21
-0.92,0.41 -0.81,0.4 -0.7,0.41 -0.59,0.39 -0.48,0.41 -0.38,0.4 -0.27,0.41 -0.17,0.39 -0.07,0.41 0.03,0.4 0.13,0.41 0.23,0.39 0.33,0.41 0.43,0.4 0.53,0.41 0.63,0.39 0.73,0.41 0.83,0.4 0.93,0.41 1.03,0.39
-0.86,0.61 -0.75,0.6 -0.64,0.61 -0.53,0.6 -0.42,0.61 -0.32,0.6 -0.21,0.61 -0.11,0.6 -0.01,0.61 0.09,0.6 0.19,0.61 0.29,0.6 0.39,0.61 0.49,0.6 0.59,0.61 0.69,0.6 0.79,0.61 0.89,0.6 0.99,0.61
-0.8,0.81 -0.69,0.8 -0.58,0.81 -0.47,0.8 -0.36,0.81 -0.26,0.8 -0.15,0.81 -0.05,0.8 0.05,0.81 0.15,0.8 0.25,0.81 0.35,0.8 0.45,0.81 0.55,0.8 0.65,0.81 0.75,0.8 0.85,0.81
-0.66,1.03 -0.5,1.05 -0.36,1.02 -0.22,1.05 -0.08,1.03 0.06,1.05 0.2,1.02 0.34,1.05 0.48,1.03 0.62,1.05 0.76,1.02 0.9,1.05 -0.5,1.22 -0.2,1.25 0.15,1.22 0.5,1.25 0.7,1.3 0.35,1.35`;
const thpAcSig = ``;
const thpAcGenes = ['CHD9', 'ATF7', 'ZFX', 'GSTM2', 'SP110', 'RCHY1', 'COA6', 'TLN2'];
const thpAcFC = [1.33, -1.22, 1.27, -1.3, 1.94, -1.35, -1.05, -1.27];
const thpAcLogP = [2.5, 1.71, 1.83, 1.44, 1.31, 1.33, 1.4, 1.31];

// ---- layout (positions only) ----
const FONT = '"Liberation Sans", Arial, Helvetica, sans-serif';
Chart.defaults.font.family = FONT;

const vennLayouts = {
  vennA: {
    title: 'MAIT cells', titleAt: [239, 20], letter: 'A', letterAt: [18, 40],
    circles: [[200, 155], [283, 156], [241, 231]], r: 89,
    counts: [[153, 135], [241, 119], [325, 134], [242, 177], [182, 217], [292, 218], [238, 274]],
    names: [[156, 62], [318, 62], [240, 328]]
  },
  vennB: {
    title: 'THP-1 cells', titleAt: [254, 24], letter: 'B', letterAt: [18, 39],
    circles: [[217, 158], [301, 160], [257, 234]], r: 89.5,
    counts: [[170, 139], [258, 124], [342, 138], [258, 181], [200, 220], [310, 222], [255, 277]],
    names: [[173, 65], [335, 66], [257, 333]]
  }
};
const vennFill = ['rgba(40,70,175,0.52)', 'rgba(210,30,30,0.5)', 'rgba(35,160,30,0.5)'];
const vennEdge = ['rgba(50,70,170,0.85)', 'rgba(215,40,40,0.85)', 'rgba(40,165,40,0.9)'];

function drawVenn(id, counts) {
  const L = vennLayouts[id];
  const textPlugin = {
    id: 'vennText',
    afterDatasetsDraw(chart) {
      const ctx = chart.ctx, sx = chart.scales.x, sy = chart.scales.y;
      const put = (t, p, font, color) => {
        ctx.font = font; ctx.fillStyle = color || '#000';
        ctx.fillText(t, sx.getPixelForValue(p[0]), sy.getPixelForValue(p[1]));
      };
      ctx.save();
      ctx.textAlign = 'center'; ctx.textBaseline = 'middle';
      put(L.title, L.titleAt, '24px ' + FONT);
      put(L.letter, L.letterAt, 'bold 15px ' + FONT);
      vennSetNames.forEach((n, i) => put(n, L.names[i], '16px ' + FONT));
      counts.forEach((c, i) => put(String(c), L.counts[i], '20px ' + FONT, '#111'));
      ctx.restore();
    }
  };
  new Chart(document.getElementById(id), {
    type: 'bubble',
    data: {
      datasets: vennSetNames.map((n, i) => ({
        label: n,
        data: [{ x: L.circles[i][0], y: L.circles[i][1], r: L.r }],
        backgroundColor: vennFill[i],
        borderColor: vennEdge[i],
        borderWidth: 1.2,
        order: 3 - i
      }))
    },
    options: {
      responsive: false, animation: false, devicePixelRatio: 1,
      layout: { padding: 0, autoPadding: false },
      plugins: { legend: { display: false }, tooltip: { enabled: false } },
      scales: {
        x: { display: false, min: 0, max: 444 },
        y: { display: false, min: 0, max: 340, reverse: true }
      }
    },
    plugins: [textPlugin]
  });
}

drawVenn('vennA', maitVennCounts);
drawVenn('vennB', thpVennCounts);

// ---- volcano panels ----
function pts(s) {
  return s.trim() ? s.trim().split(/\s+/).map(p => {
    const v = p.split(',').map(Number);
    return { x: v[0], y: v[1] };
  }) : [];
}

const volcanoLayouts = {
  maitOp: {
    title: 'MAIT: 5-OP-RU vs US', titleX: 232, titleDy: 23,
    pad: { left: 0, top: 10, right: 12, bottom: 0 }, yw: 32, xh: 34, xtPad: 2, ytPad: 7,
    xMin: -6.61, xMax: 6.59, yMin: -0.28, yMax: 6.45, vTop: 6.0, hEnd: 5.8,
    labelAt: [[2.71, 5.06], [1.85, 4.38], [1.08, 3.98], [1.85, 3.63], [3.17, 3.64], [3.72, 4.0], [4.98, 4.01], [4.51, 3.7], [2.4, 3.32], [1.19, 3.25], [3.22, 2.63], [4.13, 2.39], [2.76, 2.19], [3.72, 2.14], [3.23, 1.9], [4.1, 1.55], [2.59, 1.49], [-1.97, 1.64], [-0.68, 1.3]],
    segs: ['PKM', 'SOD2']
  },
  thpOp: {
    title: 'THP-1: 5-OP-RU vs US', titleX: 255, titleDy: 25,
    pad: { left: 26, top: 12, right: 1, bottom: 0 }, yw: 32, xh: 32, xtPad: 1, ytPad: 6,
    xMin: -6.59, xMax: 6.18, yMin: -0.28, yMax: 6.3, vTop: 5.9, hEnd: 5.86,
    labelAt: [[3.74, 4.2], [1.02, 3.8], [2.16, 3.51], [0.88, 3.11], [2.69, 3.12], [4.94, 2.97], [3.37, 2.69], [1.6, 2.59], [3.02, 2.29], [3.26, 1.97], [3.54, 1.64], [2.9, 1.38], [1.68, 1.69], [-2.6, 1.58]],
    segs: []
  },
  maitAc: {
    title: 'MAIT: Ac-6-FP vs US', titleX: 232.5, titleDy: 21,
    pad: { left: 0, top: 10, right: 12, bottom: 0 }, yw: 34, xh: 35, xtPad: 4.5, ytPad: 9,
    xMin: -6.62, xMax: 6.6, yMin: -0.28, yMax: 6.32, vTop: 5.9, hEnd: 5.85,
    labelAt: [[2.02, 1.99], [0.39, 1.81], [1.53, 1.64], [2.16, 1.33], [-1.66, 1.58], [-1.11, 1.27]],
    segs: []
  },
  thpAc: {
    title: 'THP-1: Ac-6-FP vs US', titleX: 250.5, titleDy: 24,
    pad: { left: 25, top: 12, right: 1, bottom: 0 }, yw: 32, xh: 31, xtPad: 1.2, ytPad: 4,
    xMin: -6.61, xMax: 6.21, yMin: -0.29, yMax: 6.33, vTop: 5.9, hEnd: 5.89,
    labelAt: [[1.6, 2.63], [-0.97, 1.84], [1.0, 1.66], [-1.6, 1.57], [2.21, 1.43], [-2.1, 1.29], [-0.5, 1.44], [-1.05, 1.2]],
    segs: ['RCHY1']
  }
};

function isMajor(v, list) { return list.some(t => Math.abs(t - v) < 1e-6); }

function drawVolcano(id, black, core, sig, genes, fc, logp) {
  const L = volcanoLayouts[id];
  const red = genes.map((g, i) => ({ x: fc[i], y: logp[i] }));
  const dashed = {
    showLine: true, borderColor: 'rgba(245,20,20,0.9)', borderWidth: 1.6,
    borderDash: [8, 4], pointRadius: 0, fill: false, tension: 0, order: 0
  };
  const decor = {
    id: 'decor',
    beforeDraw(chart) {
      const a = chart.chartArea, ctx = chart.ctx;
      ctx.save();
      ctx.fillStyle = '#EBEBEB';
      ctx.fillRect(a.left, a.top, a.right - a.left, a.bottom - a.top);
      ctx.restore();
    },
    afterDatasetsDraw(chart) {
      const ctx = chart.ctx, sx = chart.scales.x, sy = chart.scales.y, a = chart.chartArea;
      ctx.save();
      // gene labels
      ctx.font = '9.3px ' + FONT;
      ctx.textAlign = 'center'; ctx.textBaseline = 'middle';
      genes.forEach((g, i) => {
        const px = sx.getPixelForValue(fc[i]), py = sy.getPixelForValue(logp[i]);
        const lx = sx.getPixelForValue(L.labelAt[i][0]), ly = sy.getPixelForValue(L.labelAt[i][1]);
        if (L.segs.includes(g)) {
          ctx.strokeStyle = 'rgba(240,40,40,0.85)'; ctx.lineWidth = 1;
          ctx.beginPath();
          ctx.moveTo(px, py);
          const w = ctx.measureText(g).width / 2 + 1;
          ctx.lineTo(lx + (lx > px ? -w : w), ly);
          ctx.stroke();
        }
        ctx.fillStyle = 'rgba(250,45,45,0.92)';
        ctx.fillText(g, lx, ly);
      });
      // panel title
      ctx.font = '25px ' + FONT;
      ctx.fillStyle = '#000';
      ctx.textBaseline = 'alphabetic';
      ctx.fillText(L.title, L.titleX, a.top + L.titleDy);
      ctx.restore();
    }
  };
  new Chart(document.getElementById(id), {
    type: 'scatter',
    data: {
      datasets: [
        Object.assign({ data: [{ x: -6, y: pCut }, { x: fcCut[0], y: pCut }, { x: fcCut[0], y: L.vTop }] }, dashed),
        Object.assign({ data: [{ x: fcCut[1], y: L.vTop }, { x: fcCut[1], y: pCut }, { x: L.hEnd, y: pCut }] }, dashed),
        { data: red, pointRadius: 1.7, backgroundColor: '#E8191C', borderWidth: 0, order: 1 },
        { data: pts(sig), pointRadius: 1.5, backgroundColor: '#7BC8D2', borderWidth: 0, order: 2 },
        { data: pts(black), pointRadius: 1.55, backgroundColor: '#000000', borderWidth: 0, order: 3 },
        // the crowded centre: overlapping genes, drawn a little fuller so the mass reads solid
        { data: pts(core), pointRadius: 2.1, backgroundColor: '#000000', borderWidth: 0, order: 4 }
      ]
    },
    options: {
      responsive: false, animation: false, devicePixelRatio: 1,
      layout: { padding: L.pad, autoPadding: false },
      plugins: { legend: { display: false }, tooltip: { enabled: false } },
      scales: {
        x: {
          type: 'linear', min: L.xMin, max: L.xMax,
          afterFit: s => { s.height = L.xh; },
          border: { display: false },
          grid: {
            color: '#FFFFFF',
            lineWidth: c => isMajor(c.tick.value, xTicks) ? 1.2 : 0.6,
            tickLength: 3,
            tickColor: c => isMajor(c.tick.value, xTicks) ? '#333333' : 'rgba(0,0,0,0)'
          },
          ticks: {
            stepSize: 1.5, includeBounds: false, autoSkip: false, maxRotation: 0, padding: 0,
            color: '#4D4D4D', font: { size: 11 },
            callback: v => isMajor(v, xTicks) ? String(Math.round(v)) : ''
          },
          title: { display: true, text: 'log2(FC)', color: '#000', font: { size: 13 }, padding: { top: 0, bottom: L.xtPad } }
        },
        y: {
          type: 'linear', min: L.yMin, max: L.yMax,
          afterFit: s => { s.width = L.yw; },
          border: { display: false },
          grid: {
            color: '#FFFFFF',
            lineWidth: c => isMajor(c.tick.value, yTicks) ? 1.2 : 0.6,
            tickLength: 3,
            tickColor: c => isMajor(c.tick.value, yTicks) ? '#333333' : 'rgba(0,0,0,0)'
          },
          ticks: {
            stepSize: 1, includeBounds: false, autoSkip: false, padding: 2,
            color: '#4D4D4D', font: { size: 11 },
            callback: v => isMajor(v, yTicks) ? String(Math.round(v)) : ''
          },
          title: { display: true, text: '-log(p)', color: '#000', font: { size: 13 }, padding: { top: L.ytPad, bottom: 0 } }
        }
      }
    },
    plugins: [decor]
  });
}

drawVolcano('maitOp', maitOpBlack, maitOpBlackCore, maitOpSig, maitOpGenes, maitOpFC, maitOpLogP);
drawVolcano('thpOp', thpOpBlack, thpOpBlackCore, thpOpSig, thpOpGenes, thpOpFC, thpOpLogP);
drawVolcano('maitAc', maitAcBlack, maitAcBlackCore, maitAcSig, maitAcGenes, maitAcFC, maitAcLogP);
drawVolcano('thpAc', thpAcBlack, thpAcBlackCore, thpAcSig, thpAcGenes, thpAcFC, thpAcLogP);
</script>
</body>
</html>
